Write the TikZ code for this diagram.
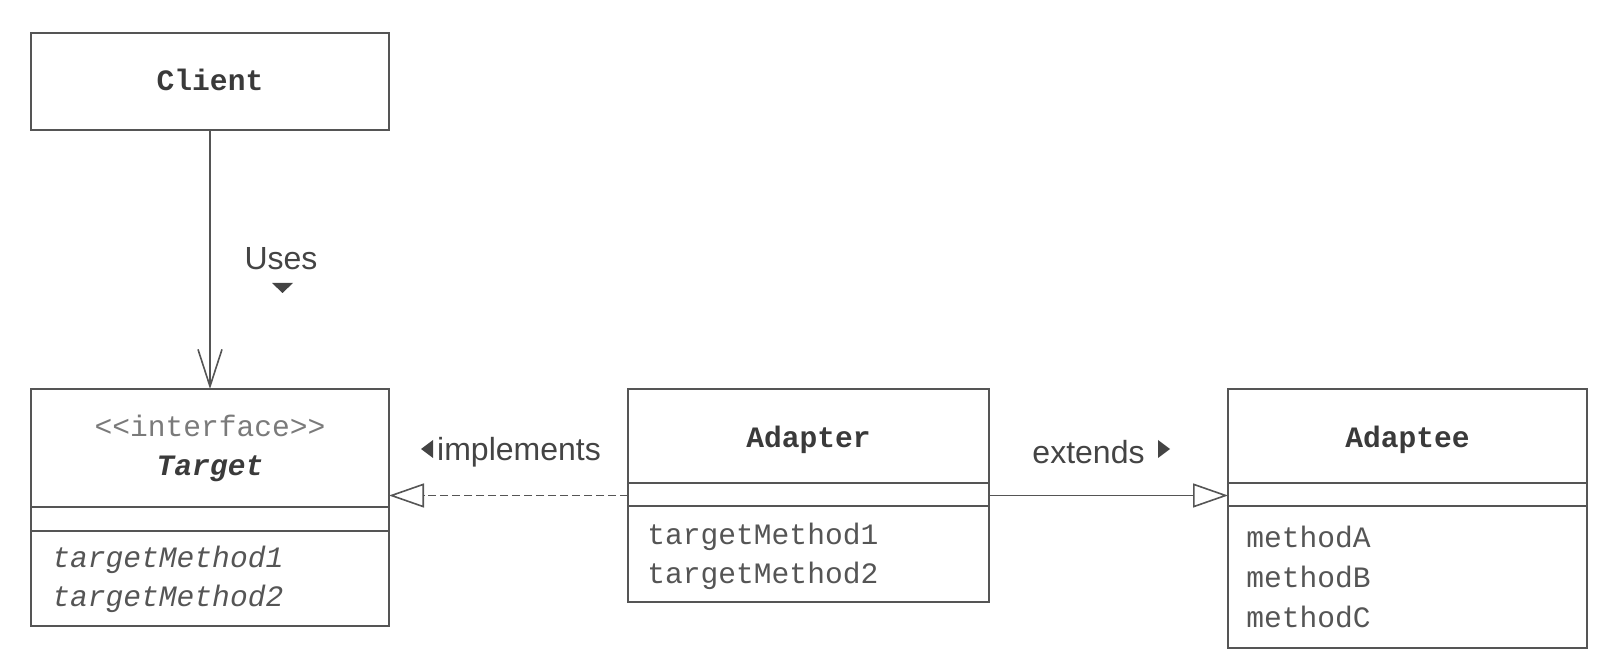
\documentclass[tikz,border=0pt]{standalone}
\usepackage{fontspec}
\setmainfont{Liberation Sans}
\setsansfont{Liberation Sans}
\setmonofont{Liberation Mono}
\usetikzlibrary{arrows.meta}
\definecolor{linec}{HTML}{555555}
\definecolor{titlec}{HTML}{3A3A3A}
\definecolor{methc}{HTML}{555555}
\definecolor{stereoc}{HTML}{7A7A7A}
\definecolor{lblc}{HTML}{444444}
\begin{document}
\begin{tikzpicture}[x=0.5pt,y=-0.5pt,
  cls/.style={draw=linec, line width=0.8pt, inner sep=0pt, outer sep=0pt},
  divider/.style={draw=linec, line width=0.8pt},
  ctitle/.style={font=\fontsize{14.8}{18}\selectfont\ttfamily\bfseries, text=titlec, inner sep=0pt},
  meth/.style={font=\fontsize{14.8}{18}\selectfont\ttfamily, text=methc, anchor=west, inner sep=0pt},
  stereo/.style={font=\fontsize{14.8}{18}\selectfont\ttfamily, text=stereoc, inner sep=0pt},
  lbl/.style={font=\fontsize{16}{19}\selectfont\sffamily, text=lblc, inner sep=0pt},
  usesarrow/.style={draw=linec, line width=0.8pt, -{Straight Barb[length=18.5pt, width=12pt, line width=0.8pt]}},
  implarrow/.style={draw=linec, line width=0.8pt, dash pattern=on 4pt off 2pt, -{Triangle[open, length=17.5pt, width=12pt, line width=0.8pt, fill=white]}},
  extarrow/.style={draw=linec, line width=0.8pt, -{Triangle[open, length=17.5pt, width=12pt, line width=0.8pt, fill=white]}},
  tri/.style={fill=lblc, draw=none}
]
\useasboundingbox (0,0) rectangle (1620,672);

% Client
\node[cls, minimum width=179pt, minimum height=48.5pt] (client) at (210,81.5) {};
\node[ctitle] (clientname) at (210,80) {Client};

% Target
\node[cls, minimum width=179pt, minimum height=118.5pt] (target) at (210,507.5) {};
\node[stereo] (tstereo) at (210,426) {<{}<interface>{}>};
\node[ctitle, font=\fontsize{14.8}{18}\selectfont\ttfamily\bfseries\itshape] (tname) at (210,469) {Target};
\draw[divider] (target.west |- 0,507) -- (target.east |- 0,507);
\draw[divider] (target.west |- 0,531) -- (target.east |- 0,531);
\node[meth, font=\fontsize{14.8}{18}\selectfont\ttfamily\itshape] (tm1) at (52,560) {targetMethod1};
\node[meth, font=\fontsize{14.8}{18}\selectfont\ttfamily\itshape] (tm2) at (52,599) {targetMethod2};

% Adapter
\node[cls, minimum width=180.5pt, minimum height=106.5pt] (adapter) at (808.5,495.5) {};
\node[ctitle] (aname) at (808.5,440) {Adapter};
\draw[divider] (adapter.west |- 0,483) -- (adapter.east |- 0,483);
\draw[divider] (adapter.west |- 0,506) -- (adapter.east |- 0,506);
\node[meth] (am1) at (647,537) {targetMethod1};
\node[meth] (am2) at (647,576) {targetMethod2};

% Adaptee
\node[cls, minimum width=179.5pt, minimum height=129.5pt] (adaptee) at (1407.5,518.5) {};
\node[ctitle] (ename) at (1407.5,440) {Adaptee};
\draw[divider] (adaptee.west |- 0,483) -- (adaptee.east |- 0,483);
\draw[divider] (adaptee.west |- 0,506) -- (adaptee.east |- 0,506);
\node[meth] (em1) at (1246,537) {methodA};
\node[meth] (em2) at (1246,577) {methodB};
\node[meth] (em3) at (1246,617) {methodC};

% Connectors
\draw[usesarrow] (client.south) -- (target.north);
\draw[implarrow] (adapter.west) -- (adapter.west -| target.east);
\draw[extarrow] (adapter.east) -- (adapter.east -| adaptee.west);

% Labels
\node[lbl] (uses) at (281,259) {Uses};
\fill[tri] (272,283) -- (293,283) -- (282.5,293) -- cycle;
\node[lbl] (impl) at (519,452) {implements};
\fill[tri] (421,449) -- (433,440) -- (433,458) -- cycle;
\node[lbl] (ext) at (1088.5,452) {extends};
\fill[tri] (1170,449) -- (1158,440) -- (1158,458) -- cycle;
\end{tikzpicture}
\end{document}
